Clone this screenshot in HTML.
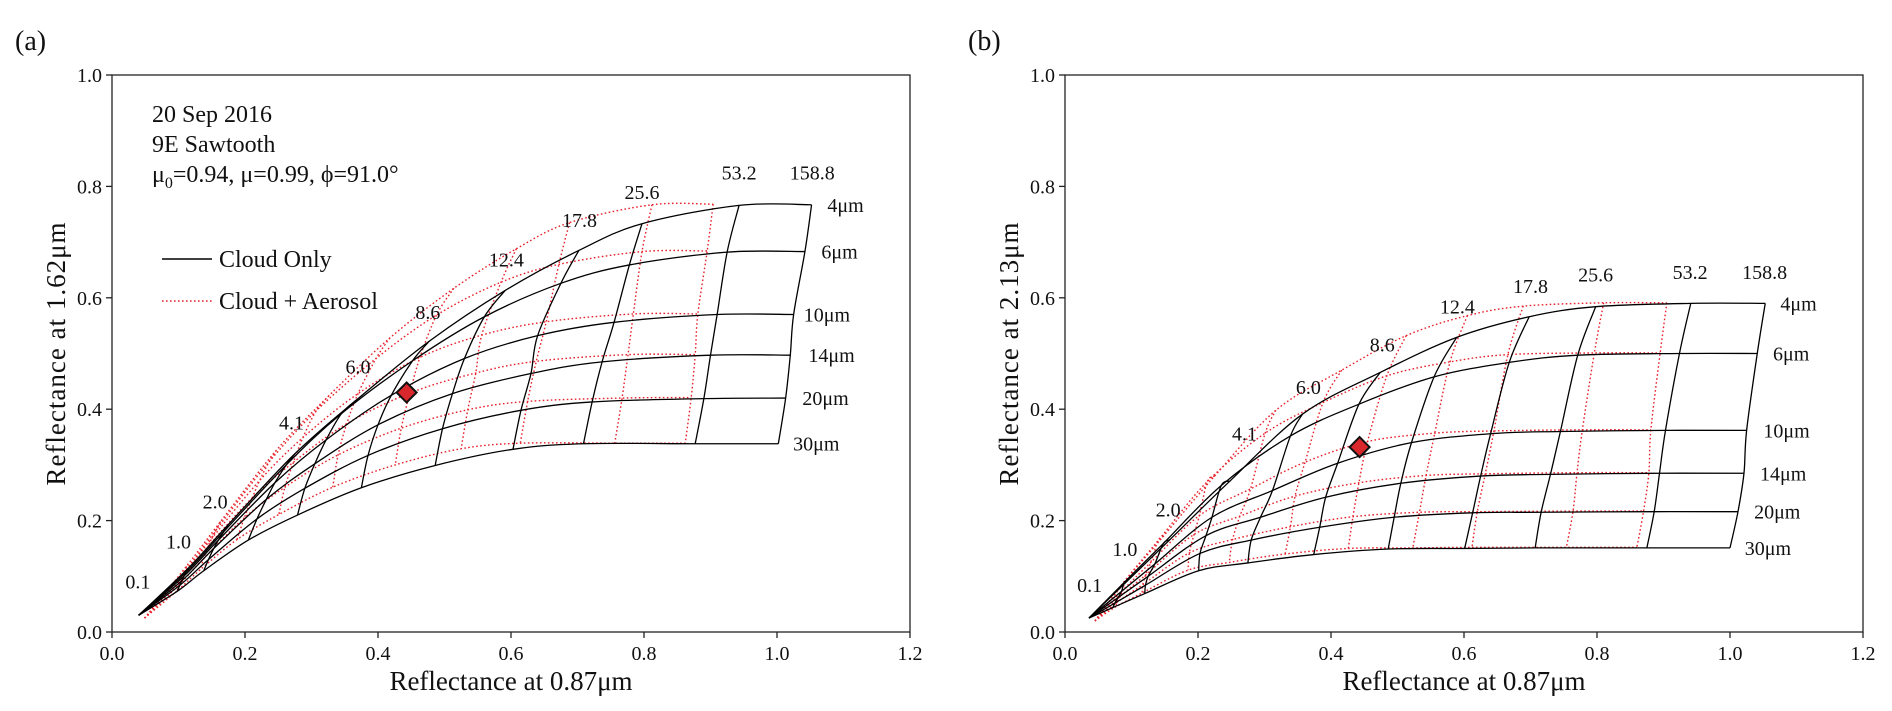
<!DOCTYPE html>
<html><head><meta charset="utf-8">
<style>
html,body{margin:0;padding:0;background:#fff;}
svg{display:block;}
text{font-family:"Liberation Serif",serif;fill:#111;}
</style></head>
<body>
<svg id="chart" width="1892" height="711" viewBox="0 0 1892 711" xmlns="http://www.w3.org/2000/svg">
  <g id="layer"></g>
</svg>
<script>
// ---- data ----
const tauLabels = ["0.1","1.0","2.0","4.1","6.0","8.6","12.4","17.8","25.6","53.2","158.8"];
const reLabels = ["4μm","6μm","10μm","14μm","20μm","30μm"];
const xTicks = [0.0,0.2,0.4,0.6,0.8,1.0,1.2];
const yTicks = [0.0,0.2,0.4,0.6,0.8,1.0];

const aCloudX = [
 [0.040,0.115,0.175,0.275,0.368,0.477,0.591,0.702,0.797,0.943,1.052],
 [0.040,0.112,0.168,0.262,0.345,0.452,0.560,0.675,0.778,0.925,1.042],
 [0.040,0.108,0.160,0.245,0.322,0.420,0.530,0.640,0.755,0.910,1.025],
 [0.040,0.105,0.153,0.232,0.305,0.400,0.512,0.630,0.737,0.900,1.020],
 [0.040,0.102,0.145,0.218,0.290,0.385,0.497,0.615,0.722,0.890,1.013],
 [0.040,0.098,0.138,0.205,0.279,0.375,0.486,0.603,0.709,0.877,1.002]];
const aCloudY = [
 [0.030,0.115,0.193,0.320,0.417,0.522,0.613,0.685,0.733,0.766,0.767],
 [0.030,0.108,0.180,0.300,0.392,0.487,0.566,0.626,0.659,0.682,0.683],
 [0.030,0.100,0.165,0.268,0.345,0.425,0.491,0.532,0.556,0.570,0.570],
 [0.030,0.092,0.150,0.238,0.302,0.372,0.428,0.464,0.485,0.497,0.497],
 [0.030,0.084,0.130,0.203,0.258,0.317,0.365,0.398,0.413,0.419,0.420],
 [0.030,0.073,0.110,0.165,0.210,0.259,0.299,0.328,0.338,0.338,0.338]];
const aAeroX = [
 [0.049,0.112,0.163,0.247,0.326,0.418,0.514,0.608,0.688,0.812,0.904],
 [0.049,0.110,0.157,0.236,0.307,0.397,0.488,0.585,0.672,0.797,0.895],
 [0.049,0.106,0.150,0.222,0.287,0.370,0.463,0.556,0.653,0.784,0.881],
 [0.049,0.104,0.144,0.211,0.273,0.353,0.448,0.547,0.638,0.776,0.877],
 [0.049,0.101,0.138,0.199,0.260,0.340,0.435,0.535,0.625,0.767,0.871],
 [0.049,0.098,0.132,0.188,0.251,0.332,0.426,0.525,0.614,0.756,0.862]];
const aAeroY = [
 [0.025,0.118,0.198,0.326,0.424,0.528,0.617,0.688,0.735,0.767,0.768],
 [0.025,0.110,0.184,0.305,0.397,0.491,0.569,0.628,0.660,0.683,0.684],
 [0.025,0.102,0.168,0.272,0.349,0.428,0.493,0.533,0.557,0.571,0.571],
 [0.025,0.094,0.153,0.241,0.305,0.374,0.429,0.465,0.486,0.498,0.498],
 [0.025,0.085,0.132,0.205,0.260,0.318,0.366,0.399,0.414,0.420,0.421],
 [0.025,0.074,0.111,0.166,0.211,0.260,0.300,0.329,0.339,0.339,0.339]];

const bCloudX = [
 [0.036,0.094,0.157,0.248,0.357,0.474,0.589,0.698,0.798,0.941,1.053],
 [0.036,0.089,0.148,0.235,0.339,0.442,0.555,0.668,0.771,0.924,1.041],
 [0.036,0.085,0.135,0.221,0.312,0.410,0.521,0.640,0.745,0.903,1.025],
 [0.036,0.080,0.125,0.212,0.294,0.392,0.505,0.625,0.730,0.894,1.021],
 [0.036,0.075,0.121,0.203,0.280,0.383,0.495,0.613,0.716,0.886,1.012],
 [0.036,0.072,0.120,0.201,0.275,0.374,0.486,0.601,0.707,0.875,1.000]];
const bCloudY = [
 [0.025,0.092,0.165,0.271,0.391,0.466,0.529,0.566,0.584,0.590,0.590],
 [0.025,0.089,0.159,0.263,0.352,0.409,0.458,0.484,0.497,0.500,0.500],
 [0.025,0.073,0.122,0.206,0.254,0.303,0.340,0.356,0.360,0.362,0.362],
 [0.025,0.062,0.100,0.173,0.206,0.242,0.267,0.280,0.283,0.285,0.285],
 [0.025,0.052,0.084,0.141,0.165,0.188,0.206,0.214,0.215,0.216,0.216],
 [0.025,0.044,0.069,0.110,0.124,0.139,0.149,0.150,0.151,0.151,0.151]];
const bAeroX = [
 [0.045,0.094,0.148,0.225,0.317,0.416,0.513,0.605,0.689,0.810,0.905],
 [0.045,0.090,0.140,0.214,0.301,0.388,0.484,0.579,0.666,0.796,0.895],
 [0.045,0.087,0.129,0.202,0.279,0.361,0.455,0.556,0.645,0.778,0.881],
 [0.045,0.083,0.121,0.194,0.263,0.346,0.442,0.543,0.632,0.770,0.878],
 [0.045,0.078,0.117,0.187,0.252,0.339,0.433,0.533,0.620,0.764,0.870],
 [0.045,0.076,0.116,0.185,0.247,0.331,0.426,0.523,0.612,0.754,0.860]];
const bAeroY = [
 [0.020,0.096,0.172,0.280,0.398,0.470,0.532,0.568,0.585,0.591,0.591],
 [0.020,0.092,0.164,0.270,0.357,0.412,0.460,0.485,0.498,0.501,0.501],
 [0.020,0.075,0.125,0.209,0.257,0.305,0.342,0.357,0.361,0.363,0.363],
 [0.020,0.064,0.102,0.175,0.208,0.244,0.268,0.281,0.284,0.286,0.286],
 [0.020,0.053,0.085,0.142,0.166,0.189,0.207,0.215,0.216,0.217,0.217],
 [0.020,0.045,0.070,0.111,0.125,0.140,0.150,0.151,0.152,0.152,0.152]];

const aTauLabX = [0.039,0.100,0.155,0.270,0.370,0.475,0.593,0.703,0.797,0.943,1.053];
const aTauLabY = [0.078,0.150,0.222,0.364,0.464,0.562,0.656,0.727,0.777,0.812,0.812];
const bTauLabX = [0.037,0.090,0.155,0.270,0.366,0.477,0.590,0.700,0.798,0.940,1.052];
const bTauLabY = [0.072,0.136,0.207,0.344,0.427,0.504,0.572,0.609,0.629,0.634,0.634];
const aReLabX = [1.103,1.094,1.075,1.082,1.073,1.059];
const aReLabY = [0.767,0.683,0.570,0.497,0.420,0.338];
const bReLabX = [1.103,1.092,1.085,1.080,1.071,1.057];
const bReLabY = [0.590,0.500,0.362,0.285,0.216,0.151];
const aObs = [0.443,0.430];
const bObs = [0.443,0.332];

// ---- drawing ----
const NS = "http://www.w3.org/2000/svg";
const layer = document.getElementById('layer');
function mk(tag, attrs, parent){
  const e = document.createElementNS(NS, tag);
  for (const k in attrs) e.setAttribute(k, attrs[k]);
  (parent||layer).appendChild(e);
  return e;
}
function smoothPath(pts){
  let d = "M" + pts[0][0].toFixed(2) + "," + pts[0][1].toFixed(2);
  for (let i=0;i<pts.length-1;i++){
    const p0 = pts[i-1]||pts[i], p1 = pts[i], p2 = pts[i+1], p3 = pts[i+2]||pts[i+1];
    const c1 = [p1[0]+(p2[0]-p0[0])/6, p1[1]+(p2[1]-p0[1])/6];
    const c2 = [p2[0]-(p3[0]-p1[0])/6, p2[1]-(p3[1]-p1[1])/6];
    d += " C"+c1[0].toFixed(2)+","+c1[1].toFixed(2)+" "+c2[0].toFixed(2)+","+c2[1].toFixed(2)+" "+p2[0].toFixed(2)+","+p2[1].toFixed(2);
  }
  return d;
}

function panel(cfg){
  const X0 = cfg.left, W = 798, Ytop = 75, Ybot = 632;
  const sx = v => X0 + v / 1.2 * W;
  const sy = v => Ybot - v * (Ybot - Ytop);
  const g = mk('g', {});
  
  

  const pl = mk('text', {x: X0 - 97, y: 50, 'font-size': 28}, g);
  pl.textContent = cfg.tag;
  
  

  function grid(X, Y, color, dash, nm){
    const gg = mk('g', {}, g);
    
    
    const style = {fill:'none', stroke: color, 'stroke-width': dash ? 1.4 : 1.3};
    if (dash) style['stroke-dasharray'] = dash;
    for (let r=0;r<X.length;r++){
      const pts = X[r].map((v,i)=>[sx(v), sy(Y[r][i])]);
      const p = mk('path', Object.assign({d: smoothPath(pts)}, style), gg);
      
      
    }
    for (let t=1;t<X[0].length;t++){
      const pts = X.map((row,r)=>[sx(row[t]), sy(Y[r][t])]);
      const p = mk('path', Object.assign({d: smoothPath(pts)}, style), gg);
      
      
    }
  }
  grid(cfg.aeroX, cfg.aeroY, '#e8212b', '1.6 2.4', 'cloud-aerosol-grid');
  grid(cfg.cloudX, cfg.cloudY, '#000', null, 'cloud-only-grid');

  tauLabels.forEach((s,i)=>{
    const t = mk('text', {x: sx(cfg.tauX[i]), y: sy(cfg.tauY[i]), 'font-size': 20, 'text-anchor':'middle'}, g);
    t.textContent = s;
    
    
  });
  reLabels.forEach((s,i)=>{
    const t = mk('text', {x: sx(cfg.reX[i]), y: sy(cfg.reY[i]) + 7, 'font-size': 20, 'text-anchor':'middle'}, g);
    t.textContent = s;
    
    
  });

  const ox = sx(cfg.obs[0]), oy = sy(cfg.obs[1]);
  const m = mk('path', {d: `M${ox},${oy-10} L${ox+10},${oy} L${ox},${oy+10} L${ox-10},${oy} Z`, fill:'#d8282c', stroke:'#111', 'stroke-width':2}, g);
  
  

  const fr = mk('rect', {x: X0, y: Ytop, width: W, height: Ybot-Ytop, fill:'none', stroke:'#222', 'stroke-width':1.3}, g);
  
  

  xTicks.forEach(v=>{
    const tk = mk('line', {x1: sx(v), x2: sx(v), y1: Ybot, y2: Ybot+6, stroke:'#222', 'stroke-width':1.3}, g);
    
    
    const t = mk('text', {x: sx(v), y: Ybot+28, 'font-size': 20, 'text-anchor':'middle'}, g);
    t.textContent = v.toFixed(1);
    
    
  });
  yTicks.forEach(v=>{
    const tk = mk('line', {x1: X0-6, x2: X0, y1: sy(v), y2: sy(v), stroke:'#222', 'stroke-width':1.3}, g);
    
    
    const t = mk('text', {x: X0-10, y: sy(v)+7, 'font-size': 20, 'text-anchor':'end'}, g);
    t.textContent = v.toFixed(1);
    
    
  });

  const xt = mk('text', {x: X0 + W/2, y: 690, 'font-size': 27, 'text-anchor':'middle'}, g);
  xt.textContent = 'Reflectance at 0.87μm';
  
  
  const yt = mk('text', {x: 0, y: 0, 'font-size': 27, 'text-anchor':'middle', 'letter-spacing': '1', transform: `translate(${X0-47},${(Ytop+Ybot)/2}) rotate(-90)`}, g);
  yt.textContent = cfg.ytitle;
  
  
  return {g, sx, sy, X0};
}

const pa = panel({left:112, name:'panel-a', tag:'(a)', ytitle:'Reflectance at 1.62μm',
  cloudX:aCloudX, cloudY:aCloudY, aeroX:aAeroX, aeroY:aAeroY,
  tauX:aTauLabX, tauY:aTauLabY, reX:aReLabX, reY:aReLabY, obs:aObs});
const pb = panel({left:1065, name:'panel-b', tag:'(b)', ytitle:'Reflectance at 2.13μm',
  cloudX:bCloudX, cloudY:bCloudY, aeroX:bAeroX, aeroY:bAeroY,
  tauX:bTauLabX, tauY:bTauLabY, reX:bReLabX, reY:bReLabY, obs:bObs});

const ann = mk('text', {x:152, y:122, 'font-size':24});


ann.textContent = '20 Sep 2016';
const ann2 = mk('text', {x:152, y:152, 'font-size':24});


ann2.textContent = '9E Sawtooth';
const ann3 = mk('text', {x:152, y:182, 'font-size':24});


ann3.innerHTML = 'μ<tspan font-size="16" dy="6">0</tspan><tspan dy="-6">=0.94, μ=0.99, ϕ=91.0°</tspan>';

const l1 = mk('line', {x1:162, x2:212, y1:259, y2:259, stroke:'#000', 'stroke-width':1.4});


const lt1 = mk('text', {x:219, y:267, 'font-size':24});


lt1.textContent = 'Cloud Only';
const l2 = mk('line', {x1:162, x2:212, y1:301, y2:301, stroke:'#e8212b', 'stroke-width':1.4, 'stroke-dasharray':'1.6 2.4'});


const lt2 = mk('text', {x:219, y:309, 'font-size':24});


lt2.textContent = 'Cloud + Aerosol';
</script>
</body></html>
